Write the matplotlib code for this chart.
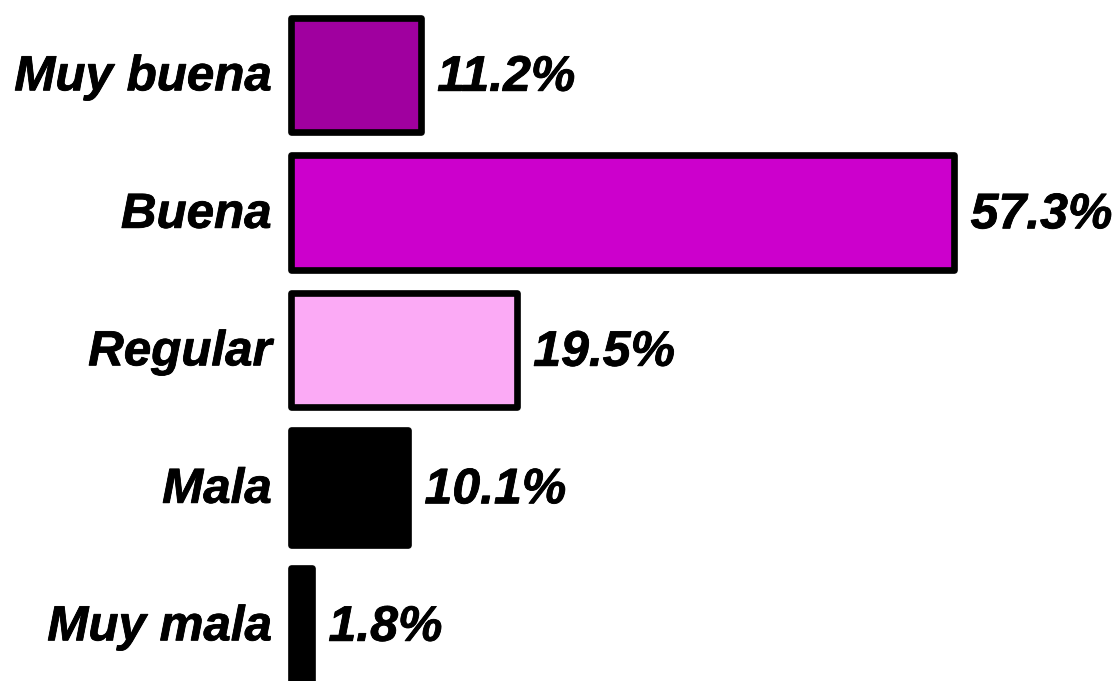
import matplotlib
matplotlib.use("Agg")
import matplotlib.pyplot as plt
import matplotlib.patheffects as pe

categories = ["Muy buena", "Buena", "Regular", "Mala", "Muy mala"]
values = [11.2, 57.3, 19.5, 10.1, 1.8]
colors = ["#A0009F", "#CC00CC", "#FBAAF5", "#000000", "#000000"]

plt.rcParams['font.family'] = ['Liberation Sans', 'DejaVu Sans']

fig = plt.figure(figsize=(11.2, 6.81), dpi=100)
ax = fig.add_axes([0, 0, 1, 1])
pos = list(range(len(categories)))
bars = ax.barh(pos, values, height=0.83, color=colors, edgecolor="black",
               linewidth=4.8)
for b in bars:
    b.set_joinstyle('round')

ax.set_ylim(4.407, -0.5455)
ax.set_xlim(-25.15, 71.65)
ax.axis('off')

effects = [pe.withStroke(linewidth=0.6, foreground="black")]
for p, c, v in zip(pos, categories, values):
    ax.annotate(c, xy=(0, p), xytext=(-14, -2), textcoords='offset points',
                ha='right', va='center', fontsize=35.5, fontweight='bold',
                fontstyle='italic', path_effects=effects)
    ax.annotate(f"{v}%", xy=(v, p), xytext=(12, -2), textcoords='offset points',
                ha='left', va='center', fontsize=36, fontweight='bold',
                fontstyle='italic', path_effects=effects)

fig.savefig("out.png", dpi=100)
